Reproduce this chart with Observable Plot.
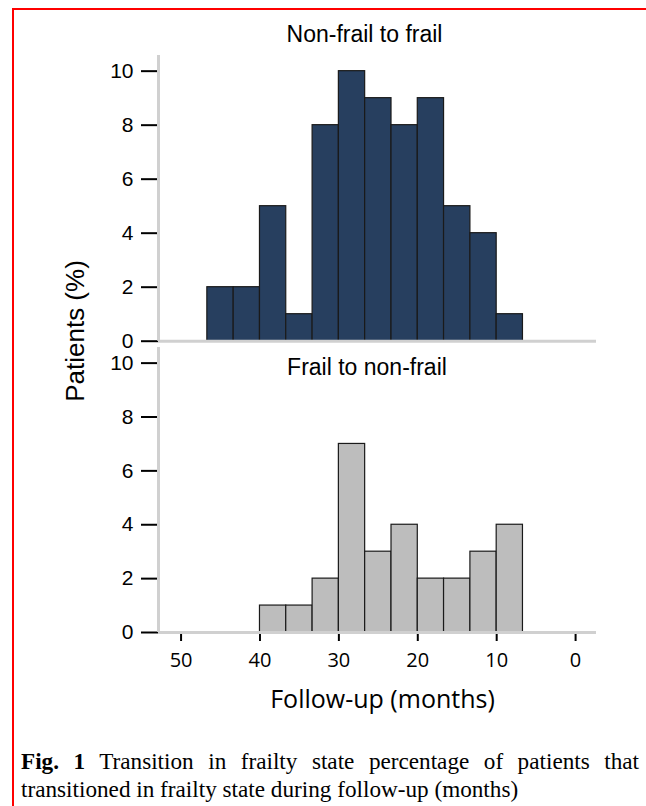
<!DOCTYPE html>
<html>
<head>
<meta charset="utf-8">
<script src="https://cdn.jsdelivr.net/npm/d3@7"></script>
<script src="https://cdn.jsdelivr.net/npm/@observablehq/plot@0.6"></script>
<style>
  html, body { margin: 0; padding: 0; background: #fff; }
  #page { position: relative; width: 646px; height: 806px; overflow: hidden; background: #fff; }
  #frame { position: absolute; left: 12px; top: 8px; width: 700px; height: 900px;
           border-left: 2px solid #ff0000; border-top: 2px solid #ff0000; }
  .panel { position: absolute; left: 0; }
  #ylabel { position: absolute; left: 75px; top: 331px; width: 300px; height: 30px; line-height: 30px;
            text-align: center; font-family: "Liberation Sans", Arial, sans-serif; font-size: 26px; color: #000;
            transform: translate(-50%, -50%) rotate(-90deg); white-space: nowrap; }
  #caption { position: absolute; left: 21px; top: 747px; width: 618px;
             font-family: "Liberation Serif", "Times New Roman", serif; font-size: 23.2px; line-height: 28px;
             text-align: justify; color: #000; }
</style>
</head>
<body>
<div id="page">
  <div id="frame"></div>
  <div id="top" class="panel" style="top:0px"></div>
  <div id="bottom" class="panel" style="top:344px"></div>
  <div id="ylabel">Patients (%)</div>
  <div id="caption"><b>Fig. 1</b> Transition in frailty state percentage of patients that transitioned in frailty state during follow-up (months)</div>
</div>
<script>
// Bin edges (months of follow-up), counts per bin (% of patients)
const monthEdges = [46.67, 43.33, 40, 36.67, 33.33, 30, 26.67, 23.33, 20, 16.67, 13.33, 10, 6.67];
const nonFrailToFrail = [2, 2, 5, 1, 8, 10, 9, 8, 9, 5, 4, 1];
const frailToNonFrail = [0, 0, 1, 1, 2, 7, 3, 4, 2, 2, 3, 4];
const xTicks = [50, 40, 30, 20, 10, 0];
const yTicks = [0, 2, 4, 6, 8, 10];
const xDomain = [52.86, -2.65];
const yDomain = [0, 10.58];
const panelTitles = ["Non-frail to frail", "Frail to non-frail"];
const xLabel = "Follow-up (months)";

const sansFont = "Liberation Sans, Arial, Helvetica, sans-serif";
const axisFont = "Open Sans, DejaVu Sans, sans-serif";

function rows(counts) {
  return counts
    .map((c, i) => ({x1: monthEdges[i], x2: monthEdges[i + 1], pct: c}))
    .filter(d => d.pct > 0);
}

function panel({counts, fill, title, titleDx, titleDy, height, marginTop, marginBottom, showX}) {
  const marks = [
    Plot.rect(rows(counts), {x1: "x1", x2: "x2", y1: 0, y2: "pct", fill, stroke: "#1a1a1a", strokeWidth: 1.2}),
    Plot.axisY({ticks: yTicks, tickSize: 17, tickPadding: 8, strokeWidth: 2, fontSize: 21,
                fontFamily: sansFont, label: null}),
  ];
  if (showX) {
    marks.push(Plot.axisX({ticks: xTicks, tickSize: 9, tickPadding: 11, strokeWidth: 2, fontSize: 20,
                           fontFamily: axisFont, label: null}));
    marks.push(Plot.text([xLabel], {text: d => d, frameAnchor: "bottom", lineAnchor: "top", dy: 58, dx: 5,
                                    fontSize: 25, fontFamily: axisFont, fill: "#000"}));
  }
  marks.push(
    Plot.ruleY([yDomain[0]], {stroke: "#d0d0d0", strokeWidth: 3}),
    Plot.ruleX([xDomain[0]], {stroke: "#d0d0d0", strokeWidth: 3}),
    Plot.text([title], {text: d => d, frameAnchor: "top", lineAnchor: "top", dx: titleDx, dy: titleDy,
                        fontSize: 23, fontFamily: sansFont, fill: "#000"})
  );
  return Plot.plot({
    width: 646, height, marginLeft: 158, marginRight: 50, marginTop, marginBottom,
    x: {domain: xDomain, axis: null},
    y: {domain: yDomain, axis: null},
    style: {background: "transparent", overflow: "visible", color: "#000"},
    marks
  });
}

document.getElementById("top").appendChild(panel({
  counts: nonFrailToFrail, fill: "#273f5f", title: panelTitles[0],
  titleDx: -13, titleDy: -30, height: 344, marginTop: 55, marginBottom: 3.3, showX: false
}));
document.getElementById("bottom").appendChild(panel({
  counts: frailToNonFrail, fill: "#bdbdbd", title: panelTitles[1],
  titleDx: -10.5, titleDy: 11, height: 380, marginTop: 3, marginBottom: 92, showX: true
}));
</script>
</body>
</html>
